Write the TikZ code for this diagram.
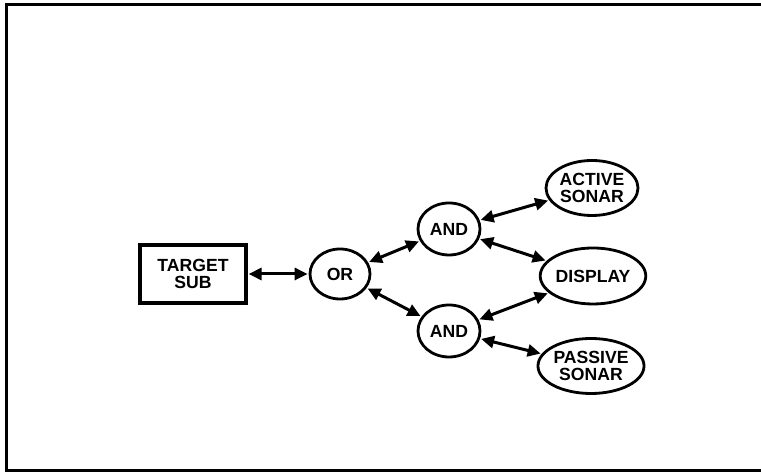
\documentclass[tikz,border=0pt]{standalone}
\usepackage{fontspec}
\setmainfont{Liberation Sans}
\usetikzlibrary{arrows.meta,shapes.geometric}
\begin{document}
\begin{tikzpicture}[x=0.5pt, y=-0.5pt,
        every node/.style={font=\bfseries\fontsize{8.8}{8.2}\selectfont, align=center, inner sep=0pt, line width=1.4pt},
        gate/.style={draw, ellipse, minimum width=31pt, minimum height=26pt},
        leaf/.style={draw, ellipse, minimum width=46pt, minimum height=27.5pt},
        link/.style={{Triangle[length=6.5pt,width=6pt]}-{Triangle[length=6.5pt,width=6pt]}, line width=1.5pt, shorten <=0.5pt, shorten >=0.5pt}]
        \useasboundingbox (0, 0) rectangle (761, 474);
        \draw[line width=1.5pt] (761, 5) -- (6, 5) -- (6, 471) -- (761, 471);
        \node[draw, minimum width=53pt, minimum height=29pt, line width=1.6pt] (target) at (193, 274) {TARGET\\SUB};
        \node[gate, minimum width=30pt, minimum height=25pt] (or) at (340, 274) {OR};
        \node[gate] (and1) at (449, 229) {AND};
        \node[gate] (and2) at (449, 331) {AND};
        \node[leaf] (active) at (592, 188) {ACTIVE\\SONAR};
        \node[leaf, minimum width=47pt, minimum height=28pt] (display) at (593, 276) {DISPLAY};
        \node[leaf] (passive) at (591, 366) {PASSIVE\\SONAR};
        \draw[link] (target) -- (or);
        \draw[link] (or) -- (and1);
        \draw[link] (or) -- (and2);
        \draw[link] (and1) -- (active);
        \draw[link] (and1) -- (display);
        \draw[link] (and2) -- (display);
        \draw[link] (and2) -- (passive);
    \end{tikzpicture}
\end{document}
